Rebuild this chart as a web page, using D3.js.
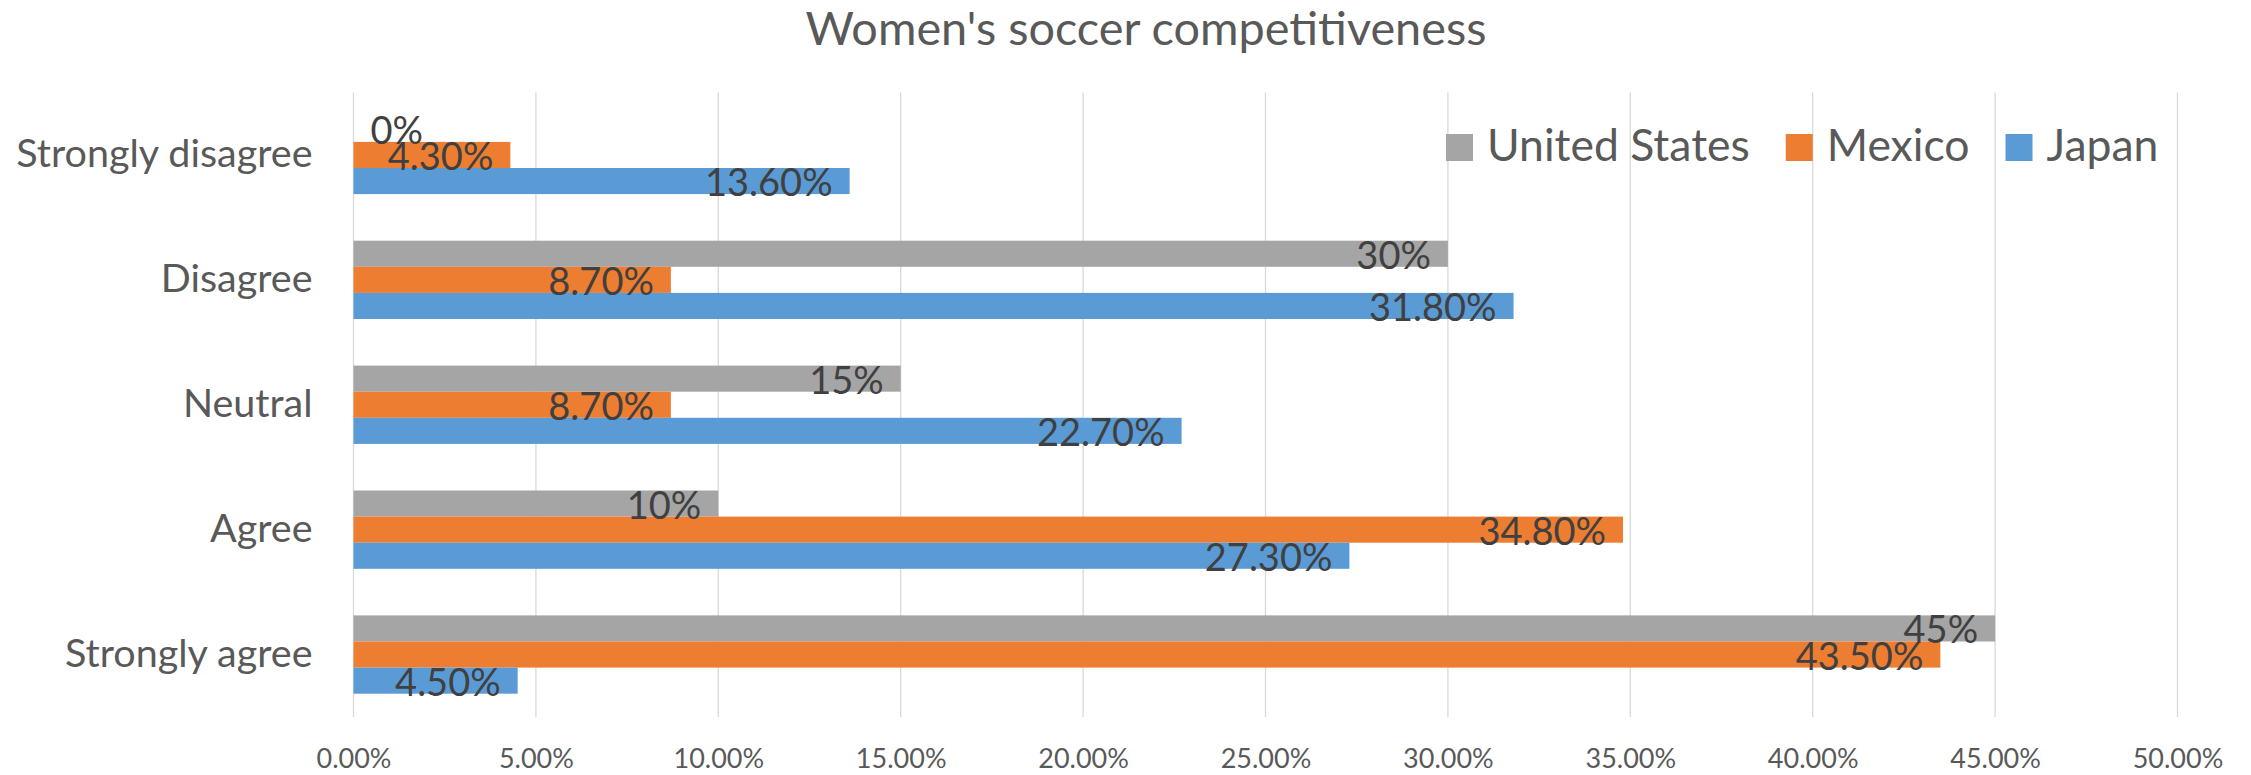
<!DOCTYPE html>
<html>
<head>
<meta charset="utf-8">
<script src="https://cdn.jsdelivr.net/npm/d3@7/dist/d3.min.js"></script>
<style>
  html, body { margin: 0; padding: 0; background: #ffffff; }
  svg { display: block; }
  text { font-family: Lato, "Noto Sans", sans-serif; }
</style>
</head>
<body>
<svg id="chart" width="2251" height="775"></svg>
<script>
// Survey answers, listed top to bottom as drawn
const categories = ["Strongly disagree", "Disagree", "Neutral", "Agree", "Strongly agree"];

// Share of respondents per answer (percent)
const unitedStates = [0, 30, 15, 10, 45];
const mexico = [4.3, 8.7, 8.7, 34.8, 43.5];
const japan = [13.6, 31.8, 22.7, 27.3, 4.5];

// Series in the order they stack inside each group (top to bottom)
const seriesNames = ["United States", "Mexico", "Japan"];
const seriesValues = [unitedStates, mexico, japan];
const seriesColors = ["#A5A5A5", "#ED7D31", "#5B9BD5"];
const seriesLabelDecimals = [0, 2, 2];

// Value axis ticks (percent)
const xTicks = [0, 5, 10, 15, 20, 25, 30, 35, 40, 45, 50];

const title = "Women's soccer competitiveness";

const W = 2251, H = 775;
const plot = { left: 353.5, right: 2177.5, top: 92.5, bottom: 717 };

const svg = d3.select("#chart");

const x = d3.scaleLinear().domain([0, 50]).range([plot.left, plot.right]);
const y = d3.scaleBand().domain(categories).range([plot.top, plot.bottom]).padding(0);
const groupFrac = 0.627;
const inner = d3.scaleBand().domain(seriesNames)
  .range([-y.step() * groupFrac / 2, y.step() * groupFrac / 2]).padding(0);

// Vertical gridlines
svg.append("g")
  .selectAll("line")
  .data(xTicks)
  .join("line")
  .attr("x1", d => x(d)).attr("x2", d => x(d))
  .attr("y1", plot.top).attr("y2", plot.bottom)
  .attr("stroke", "#D9D9D9")
  .attr("stroke-width", 1.3);

// Value axis labels
const xAxis = d3.axisBottom(x)
  .tickValues(xTicks)
  .tickSize(0)
  .tickPadding(0)
  .tickFormat(d => d.toFixed(2) + "%");
const xg = svg.append("g").attr("transform", `translate(0,${plot.bottom})`).call(xAxis);
xg.select(".domain").remove();
xg.selectAll("text")
  .attr("y", 51).attr("dy", null)
  .attr("fill", "#595959")
  .style("font-size", "27px");

// Category labels
const yAxis = d3.axisLeft(y).tickSize(0).tickPadding(0);
const yg = svg.append("g").attr("transform", `translate(${plot.left - 41},0)`).call(yAxis);
yg.select(".domain").remove();
yg.selectAll("text")
  .attr("x", 0).attr("dy", null).attr("y", 12)
  .attr("text-anchor", "end")
  .attr("fill", "#595959")
  .style("font-size", "39.5px");

// Bars and value labels
const rows = [];
seriesNames.forEach((s, si) => {
  categories.forEach((c, ci) => {
    rows.push({ series: s, si, category: c, value: seriesValues[si][ci] });
  });
});

const barY = d => y(d.category) + y.bandwidth() / 2 + inner(d.series);

svg.append("g")
  .selectAll("rect")
  .data(rows)
  .join("rect")
  .attr("x", x(0))
  .attr("y", barY)
  .attr("width", d => x(d.value) - x(0))
  .attr("height", inner.bandwidth())
  .attr("fill", d => seriesColors[d.si]);

const pad = 17;
svg.append("g")
  .selectAll("text")
  .data(rows)
  .join("text")
  .text(d => d.value.toFixed(seriesLabelDecimals[d.si]) + "%")
  .attr("text-anchor", "end")
  .attr("fill", "#404040")
  .style("font-size", "38px")
  .attr("y", d => barY(d) + inner.bandwidth() / 2 + 15)
  .each(function (d) {
    const w = this.getComputedTextLength();
    const right = Math.max(x(d.value) - pad, x(0) + pad + w);
    d3.select(this).attr("x", right);
  });

// Title
svg.append("text")
  .attr("x", 1146).attr("y", 45)
  .attr("text-anchor", "middle")
  .attr("fill", "#595959")
  .style("font-size", "46.8px")
  .style("font-weight", 400)
  .text(title);

// Legend
const legend = svg.append("g");
let lx = 1446;
seriesNames.forEach((s, si) => {
  legend.append("rect")
    .attr("x", lx).attr("y", 134)
    .attr("width", 27).attr("height", 27)
    .attr("fill", seriesColors[si]);
  const t = legend.append("text")
    .attr("x", lx + 41).attr("y", 160.7)
    .attr("fill", "#595959")
    .style("font-size", "44.5px")
    .text(s);
  lx = lx + 41 + t.node().getComputedTextLength() + 36;
});
</script>
</body>
</html>
